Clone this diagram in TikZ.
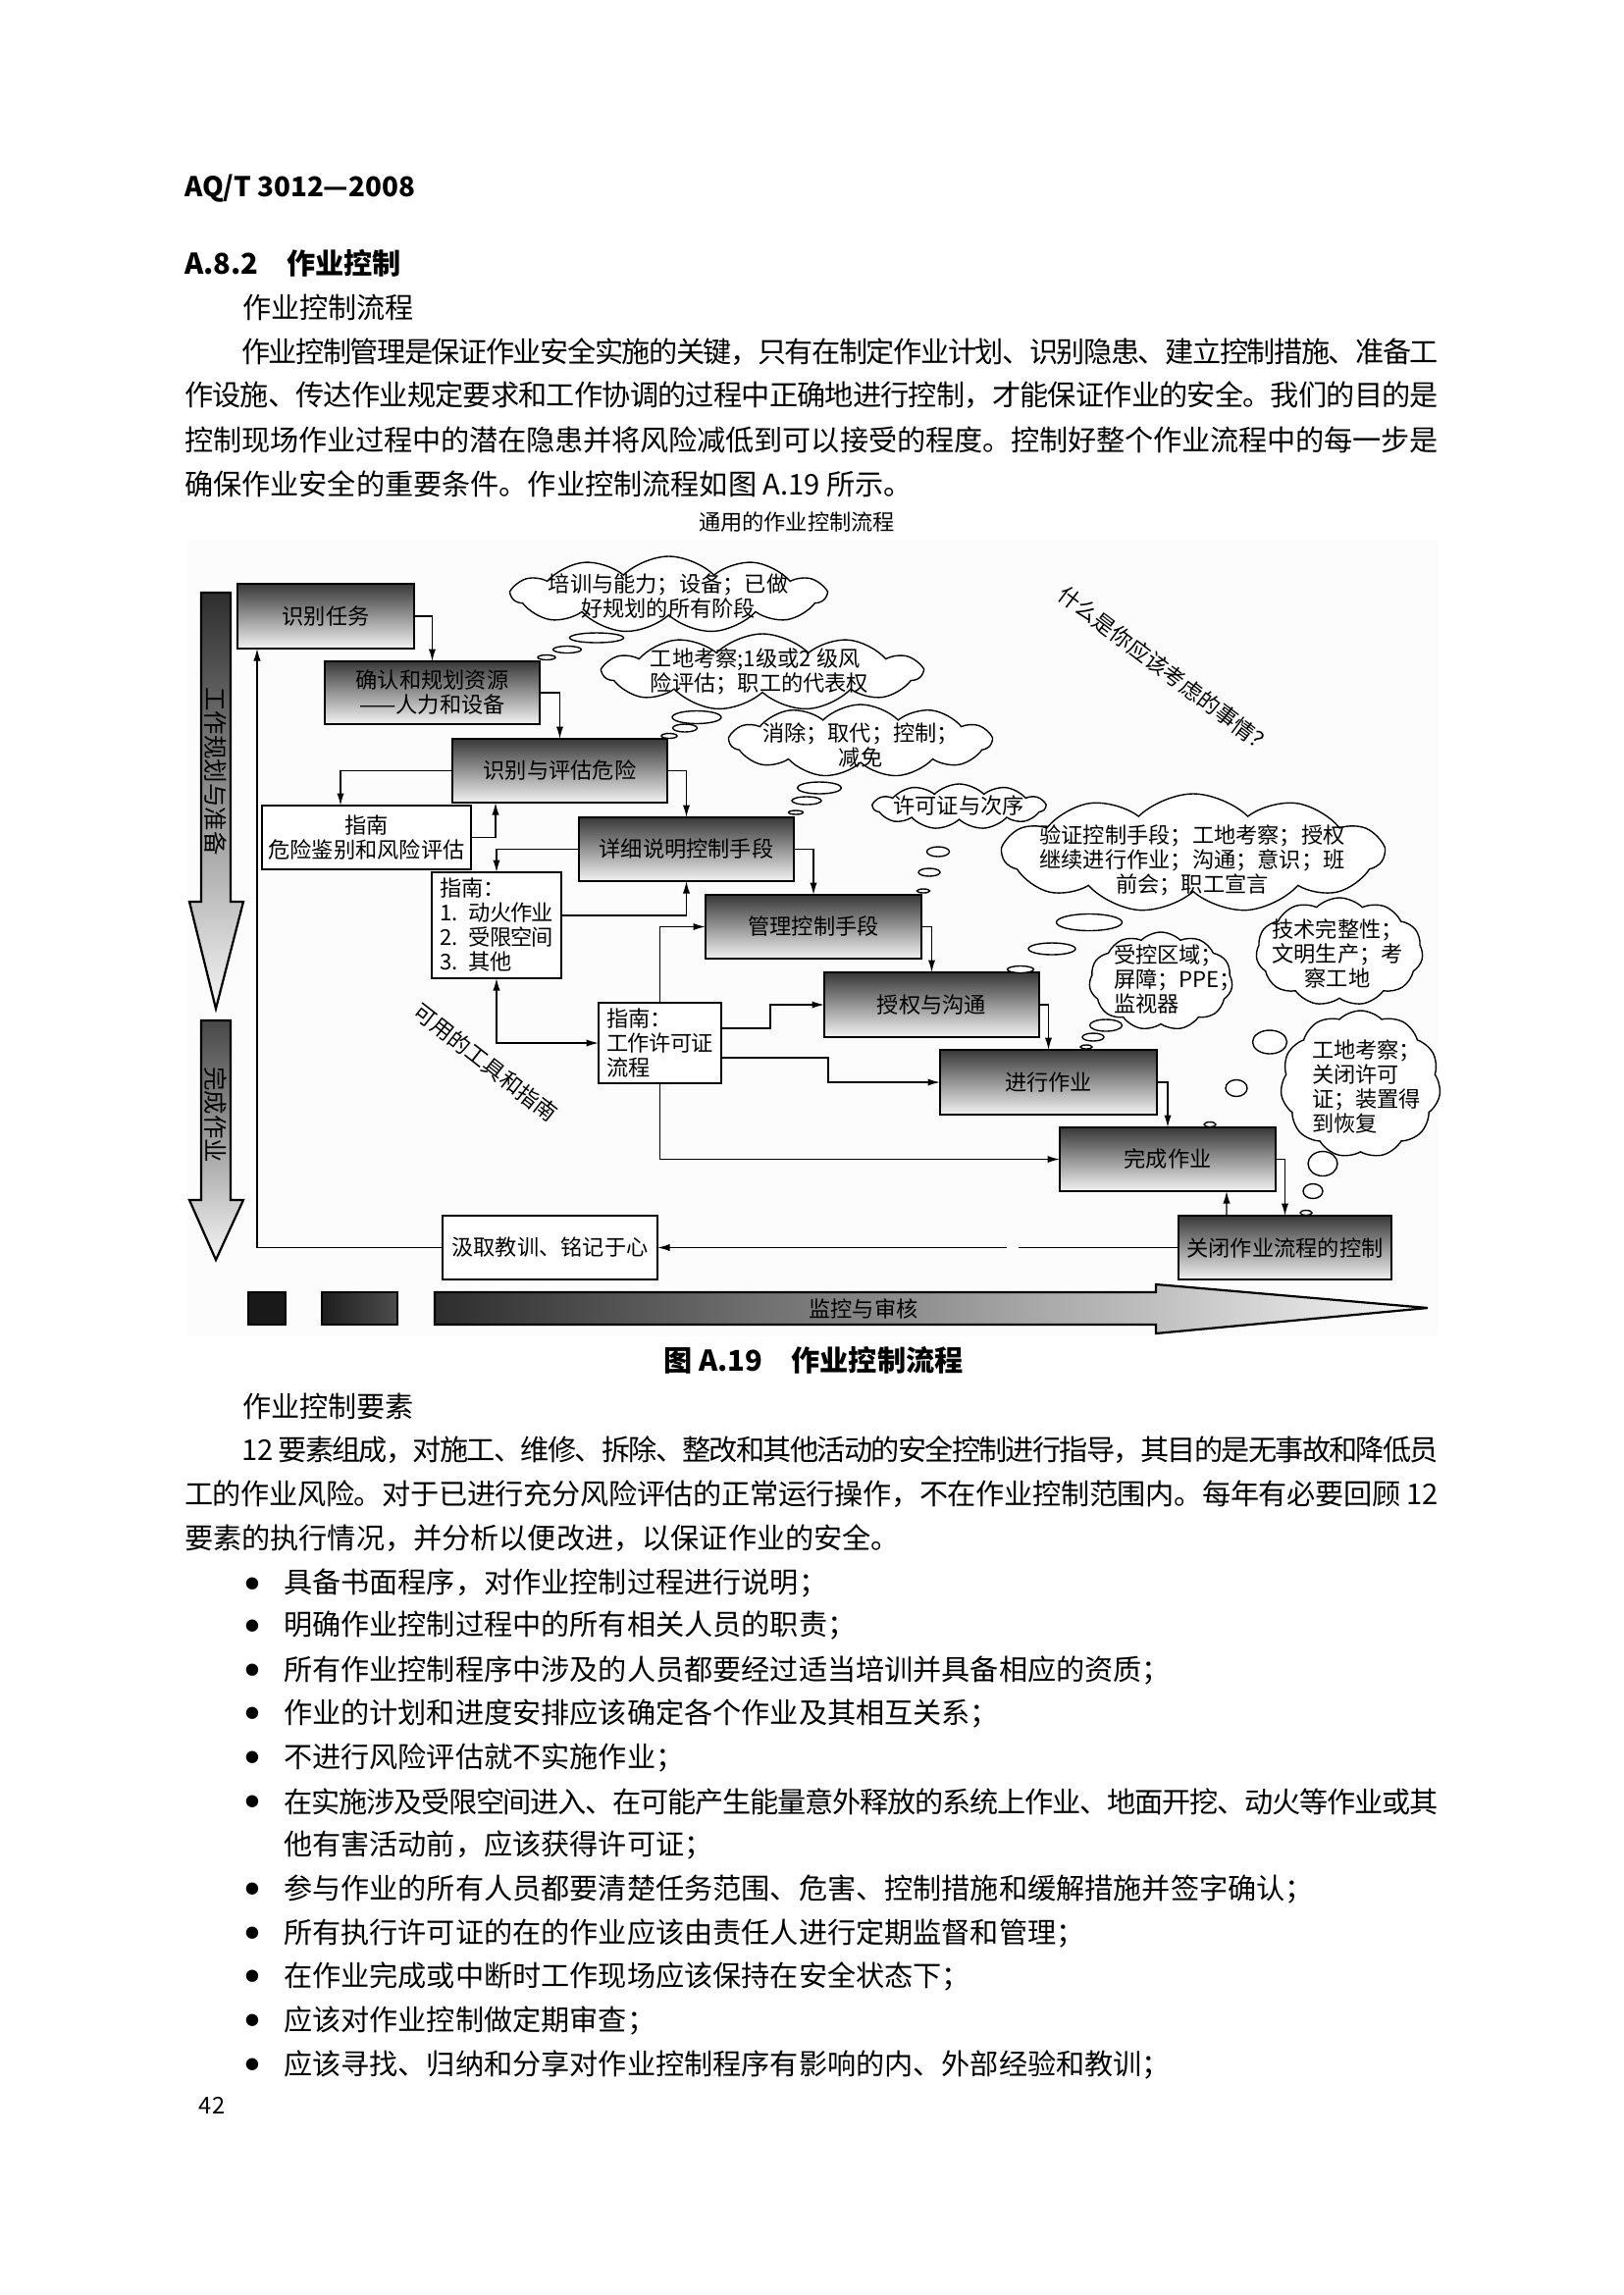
\documentclass[tikz,border=0pt]{standalone}
\usepackage{fontspec}
\newfontfamily\cjk{Noto Sans CJK SC}
\usetikzlibrary{shapes.symbols,arrows.meta}
\XeTeXinterchartokenstate=1
\newcount\mycnt
\mycnt="3000 \loop\ifnum\mycnt<"3040 \XeTeXcharclass\mycnt=1 \advance\mycnt by 1 \repeat
\mycnt="4E00 \loop\ifnum\mycnt<"A000 \XeTeXcharclass\mycnt=1 \advance\mycnt by 1 \repeat
\mycnt="FF00 \loop\ifnum\mycnt<"FF60 \XeTeXcharclass\mycnt=1 \advance\mycnt by 1 \repeat
\XeTeXinterchartoks 1 1 = {\hskip 0pt plus 2pt minus 1pt\relax}
\XeTeXinterchartoks 0 1 = {\hskip 0pt plus 2pt minus 1pt\relax}
\XeTeXinterchartoks 1 0 = {\hskip 0pt plus 2pt minus 1pt\relax}
\newcommand\mkbox[7]{\node[#6, minimum width={(#4-#2)*0.36pt}, minimum height={(#5-#3)*0.36pt}] (#1) at ({(#2+#4)/2},{(#3+#5)/2}) {#7};}
\newcommand\mkcloud[5]{\node[cld, minimum width={(#4-#2)*0.36pt}, minimum height={(#5-#3)*0.36pt}] (#1) at ({(#2+#4)/2},{(#3+#5)/2}) {};}
\newcommand\mkbub[4]{\draw[bub] (#1,#2) ellipse [x radius={#3*0.18pt}, y radius={#4*0.18pt}];}
\newcommand\jline[2]{\hbox to #1{#2}}
\begin{document}
\begin{tikzpicture}[x=0.36pt,y=-0.36pt,
  every node/.style={font=\cjk\fontsize{8}{9}\selectfont, inner sep=0pt, outer sep=0pt},
  gbox/.style={draw=black, line width=1pt, top color=black!78, bottom color=black!5, align=center},
  wbox/.style={draw=black, line width=0.9pt, fill=white, align=center},
  conn/.style={line width=0.5pt, -{Latex[length=4.5pt,width=2.6pt]}},
  cld/.style={cloud, draw, line width=0.5pt, fill=white, cloud puffs=11, cloud puff arc=90, cloud ignores aspect, inner sep=0pt},
  bub/.style={draw, line width=0.5pt, fill=white},
  body/.style={anchor=west, font=\cjk\fontsize{10.5}{12}\selectfont},
  bhead/.style={anchor=west, font=\cjk\bfseries\fontsize{10.5}{12}\selectfont}]
\useasboundingbox (0,0) rectangle (1654,2339);
\fill[white] (0,0) rectangle (1654,2339);

% ---------- page header and text ----------
\node[anchor=west, font=\cjk\bfseries\fontsize{10}{12}\selectfont] (hdr) at (188,192) {AQ/T 3012—2008};
\node[bhead] (sec) at (188,268) {A.8.2\hspace{1em}作业控制};
\node[body] (sub1) at (247,313) {作业控制流程};
\node[body] (p1) at (246,359) {\jline{439.2pt}{作业控制管理是保证作业安全实施的关键，只有在制定作业计划、识别隐患、建立控制措施、准备工}};
\node[body] (p2) at (188,403) {\jline{460.08pt}{作设施、传达作业规定要求和工作协调的过程中正确地进行控制，才能保证作业的安全。我们的目的是}};
\node[body] (p3) at (188,448) {\jline{460.08pt}{控制现场作业过程中的潜在隐患并将风险减低到可以接受的程度。控制好整个作业流程中的每一步是}};
\node[body] (p4) at (188,493) {确保作业安全的重要条件。作业控制流程如图 A.19 所示。};

% ---------- diagram ----------
\fill[black!1.2] (191,550) rectangle (1466,1362);
\node (title) at (812,532) {通用的作业控制流程};

% left vertical arrows
\path[draw=black, line width=0.8pt, top color=black!82, bottom color=black!4]
  (205,604) -- (235,604) -- (235,919) -- (248,919) -- (220,1028) -- (193,919) -- (205,919) -- cycle;
\node[rotate=-90, font=\cjk\fontsize{8.8}{9}\selectfont] (va1) at (220,786) {工作规划与准备};
\path[draw=black, line width=0.8pt, top color=black!72, bottom color=black!4]
  (205,1040) -- (235,1040) -- (235,1223) -- (248,1223) -- (220,1284) -- (193,1223) -- (205,1223) -- cycle;
\node[rotate=-90, font=\cjk\fontsize{8.8}{9}\selectfont] (va2) at (220,1136) {完成作业};

% boxes
\mkbox{B1}{242}{595}{422}{661}{gbox}{识别任务}
\mkbox{B2}{331}{674}{550}{738}{gbox}{确认和规划资源\\——人力和设备}
\mkbox{B3}{461}{753}{680}{818}{gbox}{识别与评估危险}
\mkbox{G1}{267}{821}{480}{886}{wbox}{指南\\危险鉴别和风险评估}
\mkbox{B4}{590}{833}{809}{898}{gbox}{详细说明控制手段}
\mkbox{G2}{440}{889}{572}{997}{wbox, align=left, text width=41.76pt, inner xsep=2.88pt}{指南：\\1. 动火作业\\2. 受限空间\\3. 其他}
\mkbox{M}{719}{912}{939}{977}{gbox}{管理控制手段}
\mkbox{A}{840}{991}{1059}{1057}{gbox}{授权与沟通}
\mkbox{G3}{610}{1022}{735}{1104}{wbox, align=left, text width=39.24pt, inner xsep=2.88pt}{指南：\\工作许可证\\流程}
\mkbox{J}{958}{1070}{1179}{1136}{gbox}{进行作业}
\mkbox{W}{1080}{1149}{1300}{1214}{gbox}{完成作业}
\mkbox{C}{1201}{1239}{1418}{1304}{gbox}{关闭作业流程的控制}
\mkbox{L}{451}{1239}{670}{1304}{wbox}{汲取教训、铭记于心}

% connectors
\draw[conn] (B1.east) -| (B2.north);
\draw[conn] (B2.east) -| (B3.north);
\draw[conn] (B3.west) -| ([xshift=-9.54pt]G1.north);
\draw[conn] (G1.east) -| ([xshift=-23.58pt]B3.south);
\draw[conn] (B3.east) -| (B4.north);
\draw[conn] (B4.west) -| (G2.north);
\draw[conn] ([yshift=3.6pt]G2.east) -| (B4.south);
\draw[conn] (B4.east) -| (M.north);
\draw[conn] (M.east) -| (A.north);
\draw[conn] (A.east) -| (J.north);
\draw[conn] (J.east) -| (W.north);
\draw[conn] (W.east) -| (C.north);
\draw[conn] ([xshift=-21.42pt]C.north) -- ([xshift=21.6pt]W.south);
\coordinate (gapR) at (1038,1271.5);
\coordinate (gapL) at (1026,1271.5);
\draw[line width=0.5pt] (C.west) -- (gapR);
\draw[conn] (gapL) -- (L.east);
\draw[conn] (L.west) -| ([xshift=-25.2pt]B1.south);
\draw[line width=0.5pt, {Latex[length=4.5pt,width=2.6pt]}-{Latex[length=4.5pt,width=2.6pt]}] (G2.south) |- (G3.west);
\draw[conn] (G3.north) |- (M.west);
\draw[conn] ([yshift=5.4pt]G3.east) -- ++(50,0) |- (A.west);
\draw[conn] ([yshift=-5.4pt]G3.east) -- ++(109,0) |- (J.west);
\draw[conn] (G3.south) |- (W.west);

% clouds
\mkcloud{c1}{522}{567}{841}{645}
\node[align=center] (c1t) at (681,608) {培训与能力；设备；已做\\好规划的所有阶段};
\mkcloud{c2}{615}{646}{939}{724}
\node[align=left] (c2t) at (774,684) {工地考察;1级或2 级风\\险评估；职工的代表权};
\mkcloud{c3}{744}{718}{1010}{792}
\node[align=center] (c3t) at (877,760) {消除；取代；控制；\\减免};
\mkcloud{c4}{890}{799}{1065}{845}
\node (c4t) at (977,821) {许可证与次序};
\mkcloud{c5}{1022}{809}{1410}{930}
\node[align=center] (c5t) at (1215,877) {验证控制手段；工地考察；授权\\继续进行作业；沟通；意识；班\\前会；职工宣言};
\mkcloud{c6}{1110}{950}{1256}{1050}
\node[align=left, anchor=west] (c6t) at (1135,998) {受控区域；\\屏障；PPE；\\监视器};
\mkcloud{c7}{1280}{915}{1450}{1025}
\node[align=center] (c7t) at (1363,972) {技术完整性；\\文明生产；考\\察工地};
\mkcloud{c8}{1305}{1030}{1468}{1180}
\node[align=left, anchor=west] (c8t) at (1337,1108) {工地考察；\\关闭许可\\证；装置得\\到恢复};

% thought bubbles
\mkbub{608}{650}{55}{10} \mkbub{578}{662}{29}{7} \mkbub{557}{670}{18}{5}
\mkbub{710}{731}{50}{13} \mkbub{698}{742}{25}{8} \mkbub{682}{750}{16}{5}
\mkbub{835}{803}{45}{12} \mkbub{822}{816}{30}{8} \mkbub{811}{828}{15}{4}
\mkbub{956}{868}{23}{10} \mkbub{947}{889}{22}{8} \mkbub{941}{908}{13}{4}
\mkbub{1110}{940}{67}{17} \mkbub{1072}{967}{48}{12} \mkbub{1040}{988}{27}{7}
\mkbub{1127}{1045}{33}{12} \mkbub{1114}{1057}{22}{8} \mkbub{1107}{1067}{12}{4}
\mkbub{1294}{1062}{35}{24} \mkbub{1260}{1109}{22}{17} \mkbub{1233}{1146}{12}{5}
\mkbub{1348}{1186}{30}{25} \mkbub{1338}{1214}{20}{15} \mkbub{1331}{1236}{12}{5}

% diagonal labels
\node[rotate=-37] (q) at (1188,683) {什么是你应该考虑的事情？};
\node[rotate=-38] (tools) at (495,1083) {可用的工具和指南};

% bottom bar
\path[draw=black, line width=0.6pt, fill=black!90] (253,1317) rectangle (291,1350);
\path[draw=black, line width=0.6pt, left color=black!88, right color=black!70] (328,1317) rectangle (405,1350);
\path[draw=black, line width=0.8pt, left color=black!82, right color=black!3]
  (443,1317) -- (1178,1317) -- (1178,1309) -- (1455,1333) -- (1178,1359) -- (1178,1350) -- (443,1350) -- cycle;
\node (mon) at (880,1334) {监控与审核};

\node[font=\cjk\bfseries\fontsize{10.5}{12}\selectfont] (cap) at (829,1386) {图 A.19\quad 作业控制流程};

% ---------- text after figure ----------
\node[body] (sub2) at (247,1433) {作业控制要素};
\node[body] (q1) at (246,1478) {\jline{439.2pt}{12 要素组成，对施工、维修、拆除、整改和其他活动的安全控制进行指导，其目的是无事故和降低员}};
\node[body] (q2) at (188,1523) {\jline{460.08pt}{工的作业风险。对于已进行充分风险评估的正常运行操作，不在作业控制范围内。每年有必要回顾 12}};
\node[body] (q3) at (188,1568) {要素的执行情况，并分析以便改进，以保证作业的安全。};

\foreach \yy/\nm in {1614/d1,1657/d2,1702/d3,1746/d4,1791/d5,1836/d6,1925/d7,1970/d8,2014/d9,2059/d10,2104/d11}
  \node[font=\cjk\fontsize{5}{6}\selectfont] (\nm) at (257,\yy) {●};
\node[body] (b1) at (289,1614) {具备书面程序，对作业控制过程进行说明；};
\node[body] (b2) at (289,1657) {明确作业控制过程中的所有相关人员的职责；};
\node[body] (b3) at (289,1702) {所有作业控制程序中涉及的人员都要经过适当培训并具备相应的资质；};
\node[body] (b4) at (289,1746) {作业的计划和进度安排应该确定各个作业及其相互关系；};
\node[body] (b5) at (289,1791) {不进行风险评估就不实施作业；};
\node[body] (b6) at (289,1836) {\jline{423.72pt}{在实施涉及受限空间进入、在可能产生能量意外释放的系统上作业、地面开挖、动火等作业或其}};
\node[body] (b6b) at (289,1880) {他有害活动前，应该获得许可证；};
\node[body] (b7) at (289,1925) {参与作业的所有人员都要清楚任务范围、危害、控制措施和缓解措施并签字确认；};
\node[body] (b8) at (289,1970) {所有执行许可证的在的作业应该由责任人进行定期监督和管理；};
\node[body] (b9) at (289,2014) {在作业完成或中断时工作现场应该保持在安全状态下；};
\node[body] (b10) at (289,2059) {应该对作业控制做定期审查；};
\node[body] (b11) at (289,2104) {应该寻找、归纳和分享对作业控制程序有影响的内、外部经验和教训；};
\node[font=\cjk\fontsize{8.5}{10}\selectfont] (pg) at (216,2146) {42};
\end{tikzpicture}
\end{document}
